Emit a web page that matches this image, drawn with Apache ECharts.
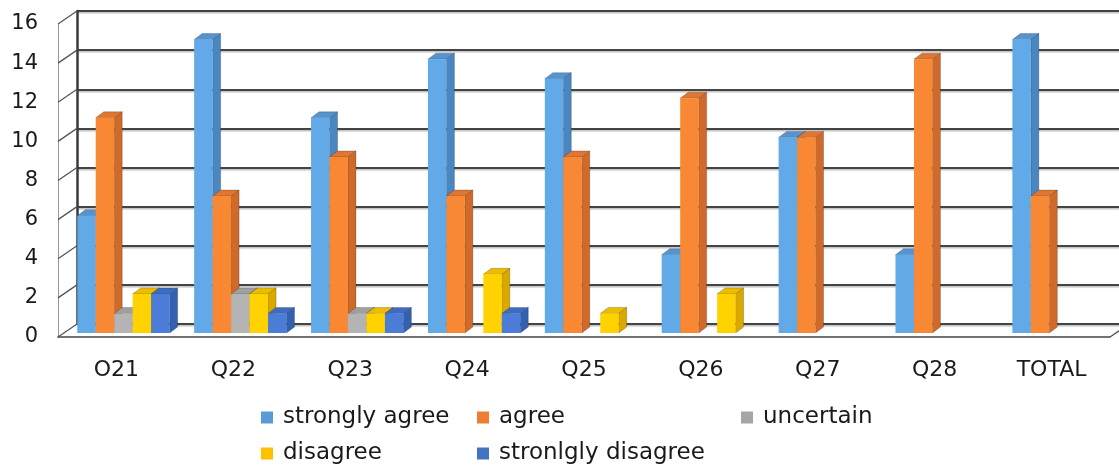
<!DOCTYPE html>
<html>
<head>
<meta charset="utf-8">
<script src="https://cdn.jsdelivr.net/npm/echarts@6/dist/echarts.min.js"></script>
<style>
  html, body { margin: 0; padding: 0; background: #fff; }
  #chart { width: 1119px; height: 465px; }
</style>
</head>
<body>
<div id="chart"></div>
<script>
// data
const categories = ["O21", "Q22", "Q23", "Q24", "Q25", "Q26", "Q27", "Q28", "TOTAL"];
const stronglyAgree = [6, 15, 11, 14, 13, 4, 10, 4, 15];
const agree = [11, 7, 9, 7, 9, 12, 10, 14, 7];
const uncertain = [1, 2, 1, 0, 0, 0, 0, 0, 0];
const disagree = [2, 2, 1, 3, 1, 2, 0, 0, 0];
const stronglyDisagree = [2, 1, 1, 1, 0, 0, 0, 0, 0];
const yTicks = [0, 2, 4, 6, 8, 10, 12, 14, 16];

const seriesNames = ["strongly agree", "agree", "uncertain", "disagree", "stronlgly disagree"];
const seriesValues = [stronglyAgree, agree, uncertain, disagree, stronglyDisagree];
const legendColors = ["#5b9bd5", "#ed7d31", "#a5a5a5", "#ffc000", "#4472c4"];
const faces = [
  { front: "#62a9e8", side: "#4a86c0", top: "#5594d0" },
  { front: "#f88834", side: "#cf6a2b", top: "#e07631" },
  { front: "#b4b4b4", side: "#8e8e8e", top: "#a0a0a0" },
  { front: "#ffd200", side: "#d9a900", top: "#ecbc00" },
  { front: "#4a7cd8", side: "#3460b0", top: "#3d6cc2" },
];

// 3d look: back wall offset, bar position inside the depth, bar depth
const WALL_DX = 19, WALL_DY = -13;
const BAR_SHIFT_X = 7, BAR_SHIFT_Y = -4;
const DEPTH_X = 8, DEPTH_Y = -6;
const FRONT = { left: 58, right: 9, top: 24, bottom: 128 };

const chart = echarts.init(document.getElementById("chart"));

function barRenderer(idx) {
  return function (params, api) {
    const v = api.value(1);
    if (!v) return;
    const band = api.size([1, 0])[0];
    const w = band * 0.158;
    const c = api.coord([api.value(0), v]);
    const b = api.coord([api.value(0), 0]);
    const x0 = c[0] + BAR_SHIFT_X - (5 * w) / 2 + idx * w;
    const x1 = x0 + w;
    const yt = c[1] + BAR_SHIFT_Y;
    const yb = b[1] + BAR_SHIFT_Y;
    const f = faces[idx];
    const edge = { stroke: "rgba(0,0,0,0.35)", lineWidth: 0.6 };
    return {
      type: "group",
      children: [
        {
          type: "polygon",
          shape: { points: [[x1, yt], [x1 + DEPTH_X, yt + DEPTH_Y], [x1 + DEPTH_X, yb + DEPTH_Y], [x1, yb]] },
          style: Object.assign({ fill: f.side }, edge),
        },
        {
          type: "polygon",
          shape: { points: [[x0, yt], [x0 + DEPTH_X, yt + DEPTH_Y], [x1 + DEPTH_X, yt + DEPTH_Y], [x1, yt]] },
          style: Object.assign({ fill: f.top }, edge),
        },
        {
          type: "rect",
          shape: { x: x0, y: yt, width: w, height: yb - yt },
          style: { fill: f.front },
        },
      ],
    };
  };
}

// side wall ticks and the floor's right edge
function wallRenderer(params, api) {
  const band = api.size([1, 0])[0];
  const c = api.coord([api.value(0), api.value(1)]);
  const x = api.value(2) ? c[0] + band / 2 : c[0] - band / 2;
  return {
    type: "line",
    shape: { x1: x, y1: c[1], x2: x + WALL_DX, y2: c[1] + WALL_DY },
    style: { stroke: "#555", lineWidth: 1.3 },
  };
}

const barSeries = seriesNames.map((name, idx) => ({
  name: name,
  type: "custom",
  xAxisIndex: 0,
  yAxisIndex: 0,
  renderItem: barRenderer(idx),
  itemStyle: { color: legendColors[idx] },
  encode: { x: 0, y: 1 },
  data: seriesValues[idx].map((v, i) => [i, v]),
  z: 3,
}));

const labelFont = { fontFamily: "DejaVu Sans", fontSize: 21, color: "#1a1a1a" };

const legendSpots = [
  { left: 261, top: 406 },
  { left: 477, top: 406 },
  { left: 741, top: 406 },
  { left: 261, top: 442 },
  { left: 477, top: 442 },
];

const option = {
  backgroundColor: "#fff",
  animation: false,
  grid: [
    FRONT,
    {
      left: FRONT.left + WALL_DX,
      right: 0,
      top: FRONT.top + WALL_DY,
      bottom: FRONT.bottom - WALL_DY,
    },
  ],
  xAxis: [
    {
      type: "category",
      gridIndex: 0,
      data: categories,
      axisLine: { show: true, lineStyle: { color: "#444", width: 1.6 } },
      axisTick: { show: false },
      axisLabel: Object.assign({}, labelFont, { margin: 22, fontSize: 22 }),
      splitLine: { show: false },
    },
    {
      type: "value",
      gridIndex: 1,
      show: false,
      min: 0,
      max: 1,
    },
  ],
  yAxis: [
    {
      type: "value",
      gridIndex: 0,
      min: 0,
      max: 16,
      interval: 2,
      axisLine: { show: true, lineStyle: { color: "#999", width: 1 } },
      axisTick: { show: false },
      axisLabel: Object.assign({ margin: 20 }, labelFont),
      splitLine: { show: false },
    },
    {
      type: "value",
      gridIndex: 1,
      min: 0,
      max: 16,
      interval: 2,
      axisLine: { show: true, lineStyle: { color: "#3a3a3a", width: 2.5 } },
      axisTick: { show: false },
      axisLabel: { show: false },
      splitLine: {
        show: true,
        lineStyle: {
          color: "#444",
          width: 1.8,
          shadowColor: "rgba(0,0,0,0.25)",
          shadowOffsetY: 1.5,
          shadowBlur: 1,
        },
      },
    },
  ],
  legend: seriesNames.map((name, idx) =>
    Object.assign(
      {
        data: [name],
        orient: "horizontal",
        itemWidth: 12,
        itemHeight: 12,
        icon: "rect",
        padding: 0,
        selectedMode: false,
        textStyle: { fontFamily: "DejaVu Sans", fontSize: 23, color: "#1a1a1a", padding: [0, 0, 0, 5] },
      },
      legendSpots[idx]
    )
  ),
  series: [
    {
      type: "custom",
      xAxisIndex: 0,
      yAxisIndex: 0,
      renderItem: wallRenderer,
      encode: { x: 0, y: 1 },
      data: yTicks.map((v) => [0, v, 0]).concat([[categories.length - 1, 0, 1]]),
      z: 1,
      silent: true,
    },
  ].concat(barSeries),
};

chart.setOption(option);
</script>
</body>
</html>
